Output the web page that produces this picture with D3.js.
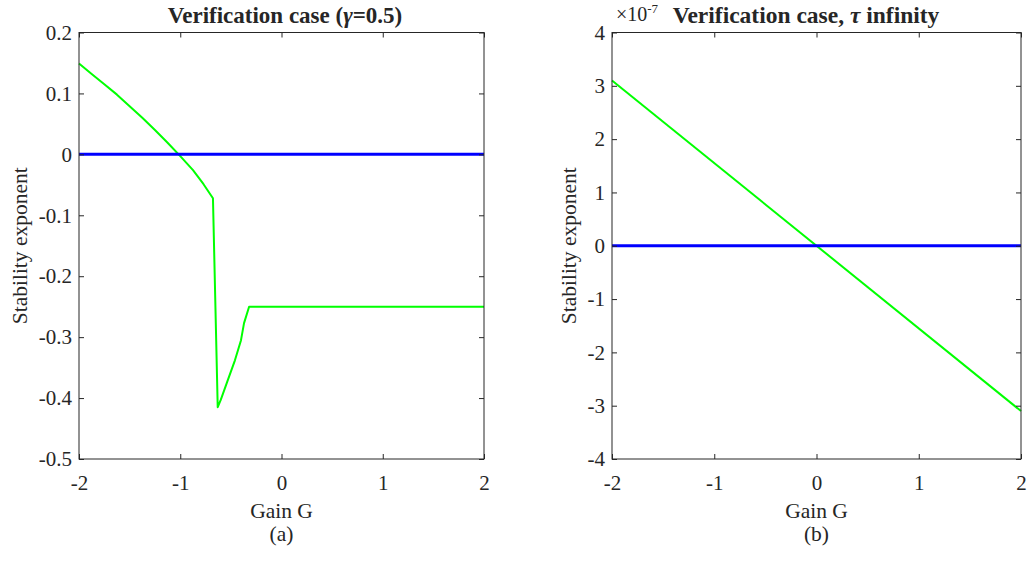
<!DOCTYPE html>
<html>
<head>
<meta charset="utf-8">
<script src="https://cdn.jsdelivr.net/npm/d3@7"></script>
<style>
  body { margin: 0; background: #fff; }
  svg text { font-family: "Liberation Serif", "Times New Roman", serif; fill: #262626; }
</style>
</head>
<body>
<div id="chart"></div>
<script>
// dane
const gainA = [-2, -1.875, -1.75, -1.625, -1.5, -1.375, -1.25, -1.125, -1.0, -0.874, -0.77, -0.677,
               -0.63, -0.60, -0.54, -0.46, -0.40, -0.37, -0.32, 2];
const expA  = [0.149, 0.132, 0.115, 0.098, 0.079, 0.06, 0.04, 0.019, -0.003, -0.026, -0.049, -0.072,
               -0.415, -0.403, -0.375, -0.338, -0.305, -0.277, -0.25, -0.25];
const gainB = [-2, 2];
const expB  = [3.1, -3.1];   // x 1e-7
const zeroLine = [0, 0];

const xTicks = [-2, -1, 0, 1, 2];
const yTicksA = [0.2, 0.1, 0, -0.1, -0.2, -0.3, -0.4, -0.5];
const yTicksB = [4, 3, 2, 1, 0, -1, -2, -3, -4];

const width = 1028, height = 561;
const axTop = 32.5, axBottom = 459;

const svg = d3.select('#chart').append('svg')
  .attr('width', width)
  .attr('height', height);

const fmt = d => String(d).replace('\u2212', '-');

function panel(opts) {
  const x = d3.scaleLinear().domain([-2, 2]).range([opts.left, opts.right]);
  const y = d3.scaleLinear().domain(opts.yDomain).range([axBottom, axTop]);
  const g = svg.append('g');

  // linie
  const line = d3.line().x(d => x(d[0])).y(d => y(d[1]));
  g.append('path')
    .datum(opts.gx.map((v, i) => [v, opts.gy[i]]))
    .attr('d', line)
    .attr('fill', 'none')
    .attr('stroke', '#00ff00')
    .attr('stroke-width', 2)
    .attr('stroke-linejoin', 'round');
  g.append('path')
    .datum(gainB.map((v, i) => [v, zeroLine[i]]))
    .attr('d', line)
    .attr('fill', 'none')
    .attr('stroke', '#0000ff')
    .attr('stroke-width', 3);

  // osie
  const ax = (sel) => sel.call(s => s.select('.domain').remove())
    .call(s => s.selectAll('line').attr('stroke', '#262626'));
  g.append('g').attr('transform', `translate(0,${axBottom})`)
    .call(d3.axisBottom(x).tickValues(xTicks).tickSize(-5).tickPadding(16).tickFormat(fmt))
    .call(ax)
    .selectAll('text').attr('font-size', 21).attr('fill', '#262626');
  g.append('g').attr('transform', `translate(0,${axTop})`)
    .call(d3.axisTop(x).tickValues(xTicks).tickSize(-5).tickFormat(''))
    .call(ax);
  g.append('g').attr('transform', `translate(${opts.left},0)`)
    .call(d3.axisLeft(y).tickValues(opts.yTicks).tickSize(-5).tickPadding(7).tickFormat(fmt))
    .call(ax)
    .selectAll('text').attr('font-size', 21).attr('fill', '#262626');
  g.append('g').attr('transform', `translate(${opts.right},0)`)
    .call(d3.axisRight(y).tickValues(opts.yTicks).tickSize(-5).tickFormat(''))
    .call(ax);
  g.append('rect')
    .attr('x', opts.left).attr('y', axTop)
    .attr('width', opts.right - opts.left).attr('height', axBottom - axTop)
    .attr('fill', 'none').attr('stroke', '#262626').attr('stroke-width', 1);

  const cx = (opts.left + opts.right) / 2;
  g.append('text').attr('x', cx).attr('y', 518).attr('text-anchor', 'middle')
    .attr('font-size', 21.5).text('Gain G');
  g.append('text').attr('x', cx).attr('y', 541).attr('text-anchor', 'middle')
    .attr('font-size', 21.5).text(opts.sub);
  g.append('text')
    .attr('transform', `translate(${opts.ylabX},${(axTop + axBottom) / 2}) rotate(-90)`)
    .attr('text-anchor', 'middle').attr('font-size', 21.5).text('Stability exponent');
  return g;
}

const gA = panel({ left: 79, right: 484, yDomain: [-0.5, 0.2], yTicks: yTicksA,
  gx: gainA, gy: expA, sub: '(a)', ylabX: 27 });
const gB = panel({ left: 612, right: 1021, yDomain: [-4, 4], yTicks: yTicksB,
  gx: gainB, gy: expB, sub: '(b)', ylabX: 576 });

// tytuly
const tA = gA.append('text').attr('x', 285).attr('y', 23).attr('text-anchor', 'middle')
  .attr('font-size', 23).attr('font-weight', 'bold');
tA.append('tspan').text('Verification case (');
tA.append('tspan').attr('font-style', 'italic').text('γ');
tA.append('tspan').text('=0.5)');

const tB = gB.append('text').attr('x', 806).attr('y', 23).attr('text-anchor', 'middle')
  .attr('font-size', 23.5).attr('font-weight', 'bold');
tB.append('tspan').text('Verification case, ');
tB.append('tspan').attr('font-style', 'italic').text('τ');
tB.append('tspan').text(' infinity');

const ex = gB.append('text').attr('x', 616).attr('y', 21).attr('font-size', 20);
ex.append('tspan').text('×10');
ex.append('tspan').attr('font-size', 13).attr('dy', -8).text('-7');
</script>
</body>
</html>
